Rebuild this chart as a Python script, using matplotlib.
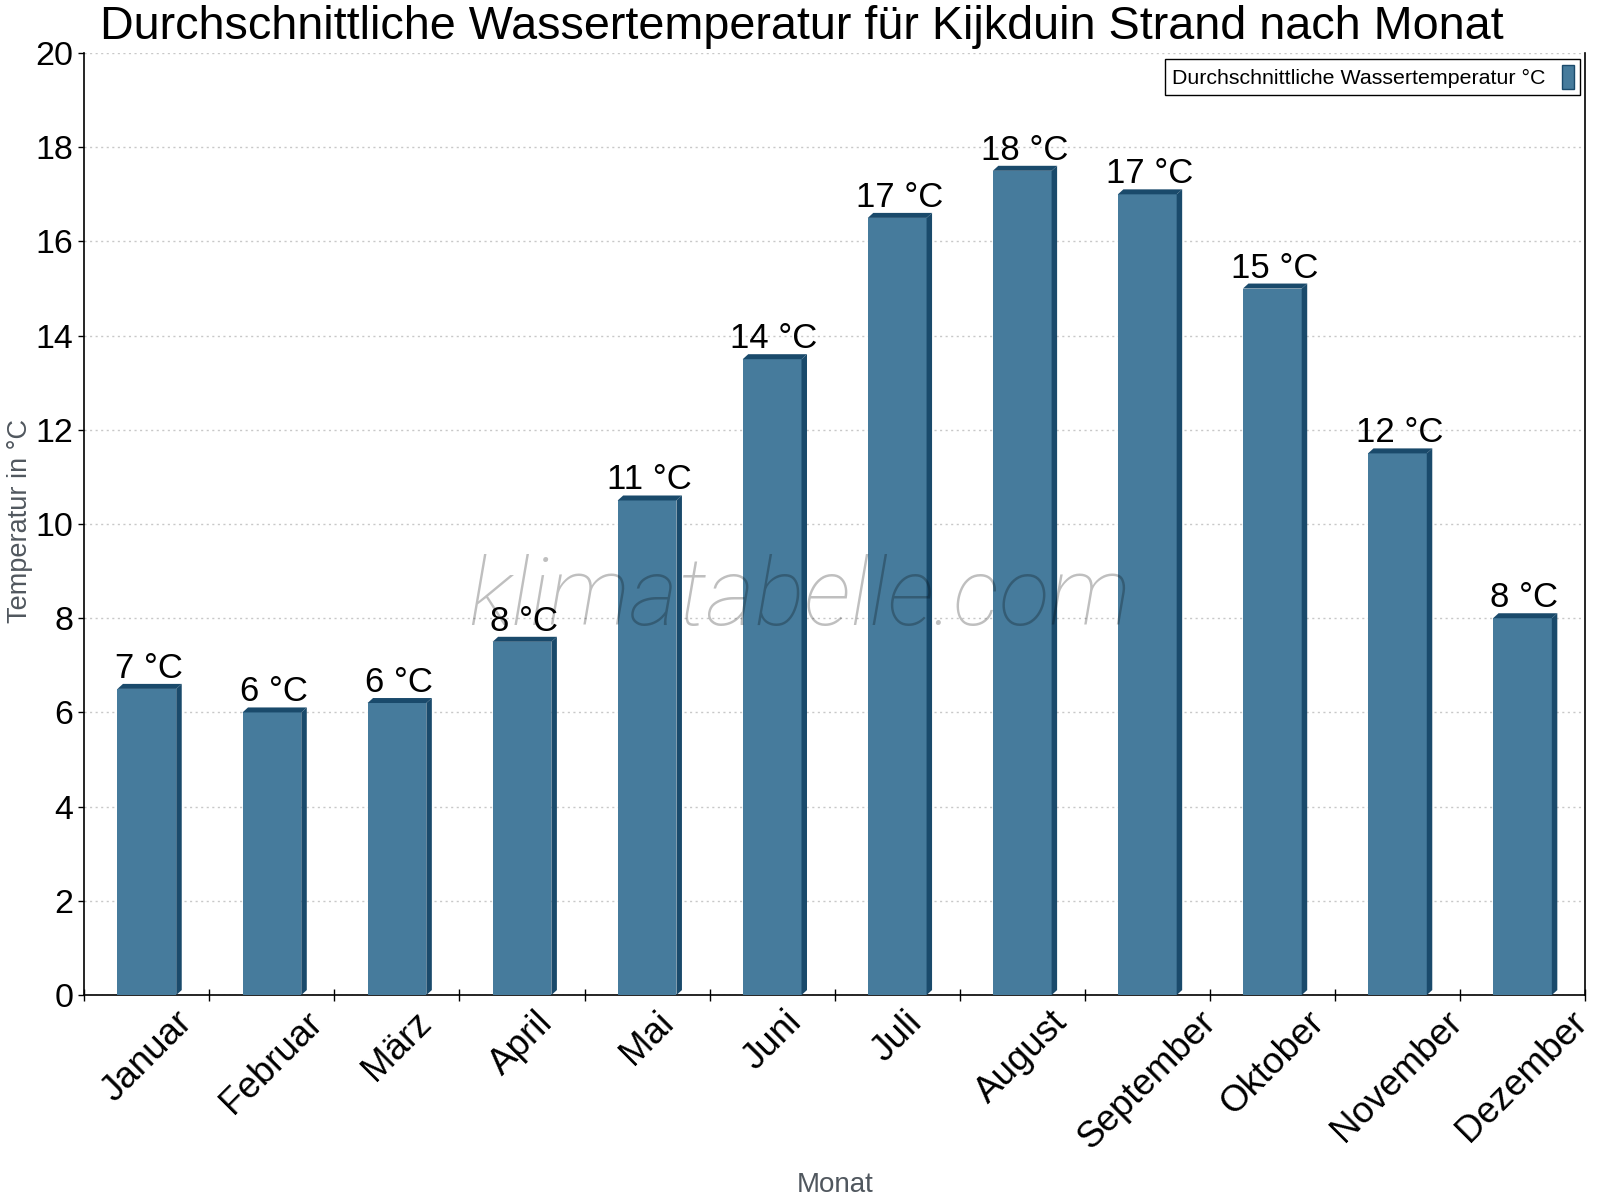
import matplotlib.pyplot as plt
from matplotlib.patches import Polygon, Patch

# Daten
monate = ["Januar", "Februar", "März", "April", "Mai", "Juni", "Juli",
          "August", "September", "Oktober", "November", "Dezember"]
wassertemp = [6.5, 6.0, 6.2, 7.5, 10.5, 13.5, 16.5, 17.5, 17.0, 15.0, 11.5, 8.0]
beschriftung = [7, 6, 6, 8, 11, 14, 17, 18, 17, 15, 12, 8]

farbe = "#467b9c"
dunkel = "#1a4a6b"
grau = "#50575e"

plt.rcParams["font.family"] = ["Liberation Sans", "DejaVu Sans"]

fig = plt.figure(figsize=(16, 12), dpi=100)
ax = fig.add_axes([0.0527, 0.1708, 0.9379, 0.785])

breite = 0.47
dx = 0.044   # Tiefe der 3D-Kante (x, Datenwerte)
dy = 0.106   # Tiefe der 3D-Kante (y, Datenwerte)

x = list(range(len(monate)))
ax.bar(x, wassertemp, width=breite, color=farbe, zorder=3)
for i, v in enumerate(wassertemp):
    l = i - breite / 2
    r = i + breite / 2
    ax.add_patch(Polygon([(l, v), (l + dx, v + dy), (r + dx, v + dy), (r, v)],
                         closed=True, facecolor=dunkel, edgecolor="none", zorder=3))
    ax.add_patch(Polygon([(r, 0), (r, v), (r + dx, v + dy), (r + dx, dy)],
                         closed=True, facecolor=dunkel, edgecolor="none", zorder=3))
    ax.annotate(f"{beschriftung[i]} °C", xy=(i, v), xytext=(2, 11),
                textcoords="offset pixels", ha="center", va="baseline",
                fontsize=25, color="black", zorder=5)

ax.set_xlim(-0.5, 11.5)
ax.set_ylim(0, 20)
ax.set_yticks(range(0, 21, 2))
ax.tick_params(axis="y", labelsize=24.5, direction="out", length=4, width=1, pad=4)
ax.set_xticks([i - 0.5 for i in range(13)])
ax.set_xticklabels([])
ax.tick_params(axis="x", which="major", direction="inout", length=9, width=1)
ax.set_xticks(x, minor=True)
ax.set_xticklabels(monate, minor=True, rotation=45, ha="center", va="top",
                   fontsize=26.5)
ax.tick_params(axis="x", which="minor", length=0, pad=7)

ax.grid(axis="y", linestyle=(0, (1.5, 2.5)), color="#c8c8c8", linewidth=1, zorder=0)
ax.spines["top"].set_visible(False)
for s in ["left", "bottom", "right"]:
    ax.spines[s].set_color("black")
    ax.spines[s].set_linewidth(1.2)

ax.set_ylabel("Temperatur in °C", fontsize=19.5, color=grau)
ax.yaxis.set_label_coords(-0.034, 0.503)
ax.set_xlabel("Monat", fontsize=20, color=grau, va="center")
ax.xaxis.set_label_coords(0.5, -0.2016)

fig.text(0.501, 0.9675, "Durchschnittliche Wassertemperatur für Kijkduin Strand nach Monat",
         ha="center", va="baseline", fontsize=33.7, color="black")

ax.text(0.4765, 0.42, "klimatabelle.com", transform=ax.transAxes, ha="center", va="center",
        fontsize=67.5, family="Roboto", fontweight="light", style="italic",
        color="black", alpha=0.25, zorder=6)

griff = Patch(facecolor=farbe, edgecolor=dunkel, linewidth=1)
leg = ax.legend([griff], ["Durchschnittliche Wassertemperatur °C"], loc="upper right",
                bbox_to_anchor=(0.997, 0.9936), markerfirst=False, fontsize=15.4,
                fancybox=False, framealpha=1, edgecolor="black",
                handlelength=0.55, handleheight=1.3, handletextpad=0.8,
                borderpad=0.3, borderaxespad=0)
leg.get_frame().set_linewidth(1)

fig.savefig("out.png", dpi=100)
